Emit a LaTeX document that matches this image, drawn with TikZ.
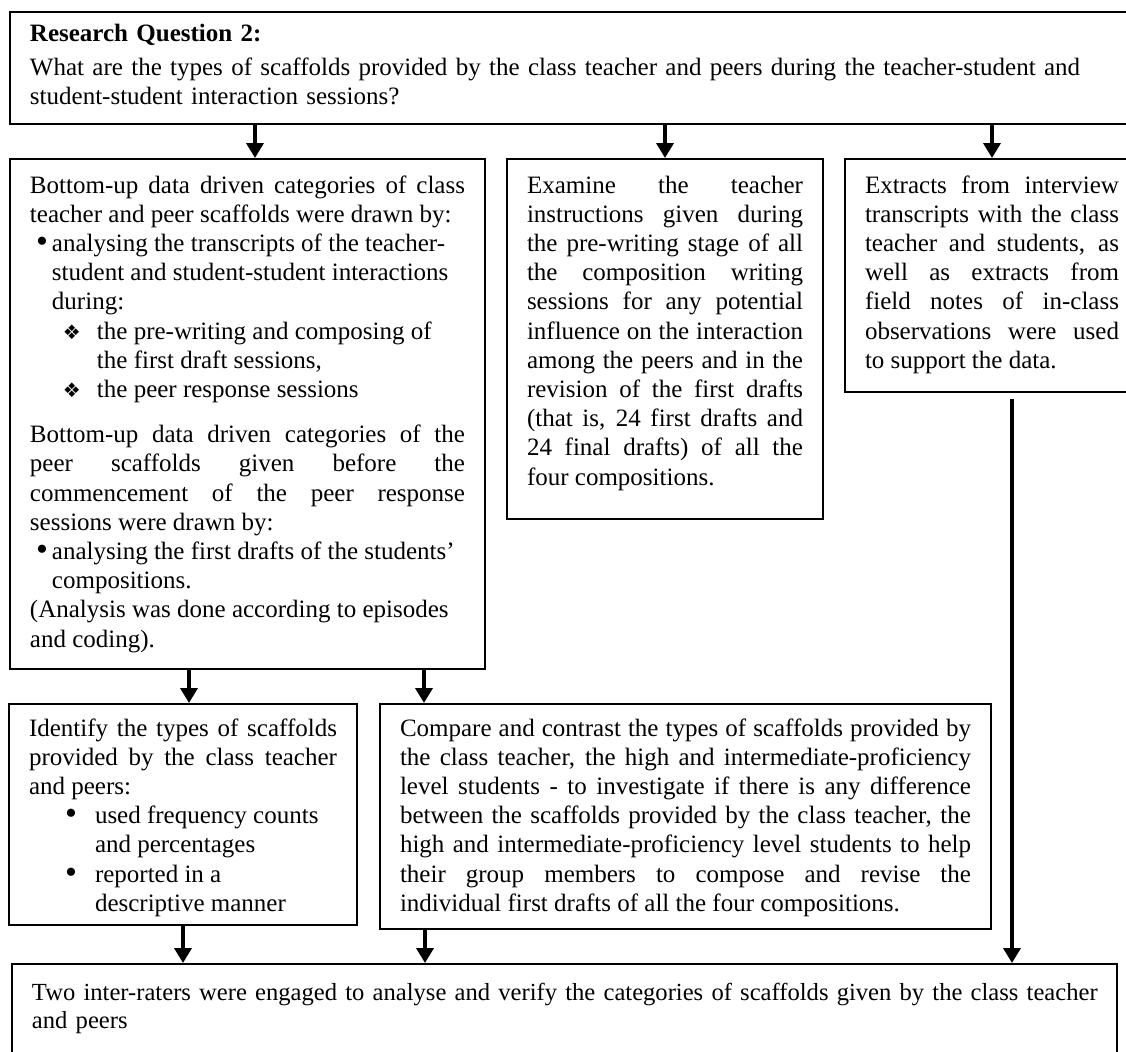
\documentclass[tikz,border=0pt]{standalone}
\usepackage{fontspec}
\setmainfont{Liberation Serif}
\newfontfamily\dingfont{DejaVu Sans}
\usetikzlibrary{arrows.meta, positioning}
\definecolor{cink}{HTML}{000000}
\tolerance=10000
\hbadness=10000
\tikzset{
  every picture/.style={x=0.5pt, y=-0.5pt, line width=1pt},
  box/.style={draw=cink, anchor=north west, inner xsep=10pt, inner ysep=0pt, align=justify, font=\fontsize{12.5}{14.6}\selectfont},
  arrow/.style={-{Triangle[length=7.5pt, width=8.5pt]}, draw=cink, line width=1.8pt},
}
% hanging list entry: symbol, symbol indent, text indent, text
\newcommand{\hangitem}[4]{\par\hangindent=#3\hangafter=1\noindent\hspace*{#2}\makebox[\dimexpr#3-#2\relax][l]{#1}#4\par}
\newcommand{\dia}{{\dingfont\fontsize{10}{10}\selectfont ❖}}
\newcommand{\dotmark}{\raisebox{-0.5pt}{\fontsize{17}{17}\selectfont\textbullet}}

\begin{document}
\begin{tikzpicture}
  \clip (0,0) rectangle (1126,1051);
  \node[box, align=left, text width=550pt, text height=14.5pt, text depth=41.5pt] (rq) at (9,11)
    {\textbf{Research Question 2:}\\[2.5pt]What are the types of scaffolds provided by the class teacher and peers during the teacher-student and\\student-student interaction sessions?};
  % second row
  \node[box, text width=217.5pt, text height=17pt, text depth=238pt] (bu) at (9,158)
    {Bottom-up data driven categories of class\linebreak teacher and peer scaffolds were drawn by:
     \hangitem{\dotmark}{3pt}{11pt}{analysing the transcripts of the teacher-\newline student and student-student interactions\newline during:}
     \hangitem{\dia}{16.5pt}{33.5pt}{the pre-writing and composing of\newline the first draft sessions,}
     \hangitem{\dia}{16.5pt}{33.5pt}{the peer response sessions}
     \vspace{8pt}
     Bottom-up data driven categories of the\linebreak peer scaffolds given before the\linebreak commencement of the peer response\linebreak sessions were drawn by:
     \hangitem{\dotmark}{3pt}{11pt}{analysing the first drafts of the students'\newline compositions.}
     (Analysis was done according to episodes\newline and coding).};
  \node[box, text width=138pt, text height=17pt, text depth=163pt] (ex) at (506,158)
    {Examine the teacher\linebreak instructions given during\linebreak the pre-writing stage of all\linebreak the composition writing\linebreak sessions for any potential\linebreak influence on the interaction\linebreak among the peers and in the\linebreak revision of the first drafts\linebreak (that is, 24 first drafts and\linebreak 24 final drafts) of all the\linebreak four compositions.};
  \node[box, text width=127pt, text height=17pt, text depth=99.5pt] (xt) at (844,158)
    {Extracts from interview\linebreak transcripts with the class\linebreak teacher and students, as\linebreak well as extracts from\linebreak field notes of in-class\linebreak observations were used\linebreak to support the data.};
  % third row
  \node[box, text width=154pt, text height=16pt, text depth=94.5pt] (id) at (8,703)
    {Identify the types of scaffolds\linebreak provided by the class teacher\linebreak and peers:
     \hangitem{\dotmark}{18pt}{33pt}{used frequency counts\newline and percentages}
     \hangitem{\dotmark}{18pt}{33pt}{reported in a\newline descriptive manner}};
  \node[box, text width=285.5pt, text height=16pt, text depth=96.5pt] (cc) at (379,703)
    {Compare and contrast the types of scaffolds provided by\linebreak the class teacher, the high and intermediate-proficiency\linebreak level students - to investigate if there is any difference\linebreak between the scaffolds provided by the class teacher, the\linebreak high and intermediate-proficiency level students to help\linebreak their group members to compose and revise the\linebreak individual first drafts of all the four compositions.};
  \node[box, align=left, text width=532.5pt, text height=18pt, text depth=50pt, font=\fontsize{12.3}{14}\selectfont] (tr) at (11,963)
    {\mbox{Two inter-raters were engaged to analyse and verify the categories of scaffolds given by the class teacher}\\and peers};
  % connectors
  \draw[arrow] (255,0 |- rq.south) -- (255,0 |- bu.north);
  \draw[arrow] (rq.south -| ex.north) -- (ex.north);
  \draw[arrow] (rq.south -| xt.north) -- (xt.north);
  \draw[arrow] (189,0 |- bu.south) -- (189,0 |- id.north);
  \draw[arrow] (424,0 |- bu.south) -- (424,0 |- cc.north);
  \draw[arrow] (id.south) -- (id.south |- tr.north);
  \draw[arrow] (425,0 |- cc.south) -- (425,0 |- tr.north);
  \draw[arrow, shorten <=3pt] (1012,0 |- xt.south) -- (1012,0 |- tr.north);
\end{tikzpicture}
\end{document}
